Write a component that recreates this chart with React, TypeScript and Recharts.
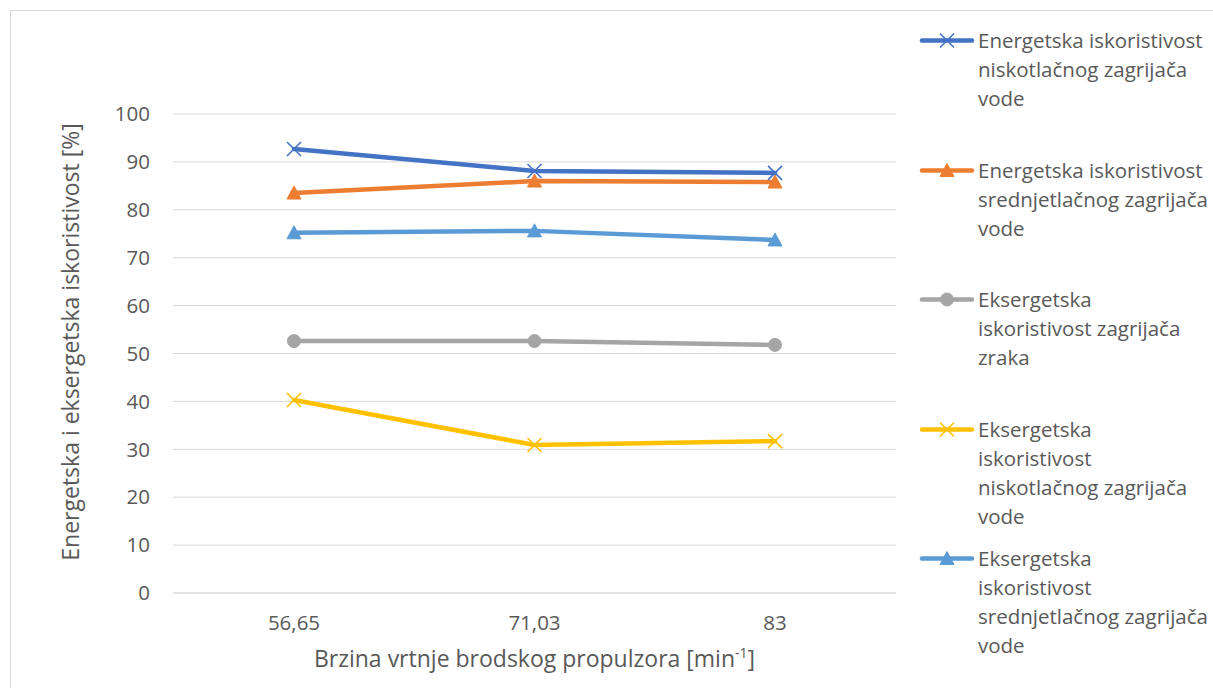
import React from 'react';
import { LineChart, Line, XAxis, YAxis, CartesianGrid, Legend, Label } from 'recharts';

const categories = ['56,65', '71,03', '83'];
const energNisko = [92.7, 88.1, 87.7];
const energSrednje = [83.5, 86.0, 85.8];
const eksZrak = [52.6, 52.6, 51.8];
const eksNisko = [40.3, 30.9, 31.7];
const eksSrednje = [75.2, 75.6, 73.7];
const yTicks = [0, 10, 20, 30, 40, 50, 60, 70, 80, 90, 100];

const seriesNames = [
  'Energetska iskoristivost niskotlačnog zagrijača vode',
  'Energetska iskoristivost srednjetlačnog zagrijača vode',
  'Eksergetska iskoristivost zagrijača zraka',
  'Eksergetska iskoristivost niskotlačnog zagrijača vode',
  'Eksergetska iskoristivost srednjetlačnog zagrijača vode',
];
const legendLines = [
  ['Energetska iskoristivost', 'niskotlačnog zagrijača', 'vode'],
  ['Energetska iskoristivost', 'srednjetlačnog zagrijača', 'vode'],
  ['Eksergetska', 'iskoristivost zagrijača', 'zraka'],
  ['Eksergetska', 'iskoristivost', 'niskotlačnog zagrijača', 'vode'],
  ['Eksergetska', 'iskoristivost', 'srednjetlačnog zagrijača', 'vode'],
];
const colors = ['#4472C4', '#ED7D31', '#A5A5A5', '#FFC000', '#5B9BD5'];
const markers = ['x', 'triangle', 'circle', 'x', 'triangle'];
const keys = ['s0', 's1', 's2', 's3', 's4'];

const data = categories.map((c, i) => ({
  cat: c,
  s0: energNisko[i],
  s1: energSrednje[i],
  s2: eksZrak[i],
  s3: eksNisko[i],
  s4: eksSrednje[i],
}));

const FONT = '"Open Sans", sans-serif';
const TXT = '#595959';

function Marker({ type, cx, cy, color }: { type: string; cx: number; cy: number; color: string }) {
  if (type === 'x') {
    const h = 7;
    return (
      <g>
        <line x1={cx - h} y1={cy - h} x2={cx + h} y2={cy + h} stroke={color} strokeWidth={1.6} />
        <line x1={cx - h} y1={cy + h} x2={cx + h} y2={cy - h} stroke={color} strokeWidth={1.6} />
      </g>
    );
  }
  if (type === 'triangle') {
    return (
      <polygon
        points={`${cx},${cy - 7} ${cx + 7},${cy + 6} ${cx - 7},${cy + 6}`}
        fill={color}
        stroke={color}
        strokeWidth={1}
      />
    );
  }
  return <circle cx={cx} cy={cy} r={6.5} fill={color} stroke={color} strokeWidth={1} />;
}

const makeDot = (idx: number) => (props: any) => {
  const { cx, cy, index } = props;
  if (cx == null || cy == null) return <g key={`d${idx}-${index}`} />;
  return (
    <g key={`d${idx}-${index}`}>
      <Marker type={markers[idx]} cx={cx} cy={cy} color={colors[idx]} />
    </g>
  );
};

const renderLegend = () => (
  <div style={{ fontFamily: FONT, fontSize: 20.5, color: TXT }}>
    {legendLines.map((lines, i) => (
      <div key={i} style={{ height: 129.5, display: 'flex', alignItems: 'flex-start' }}>
        <svg width={58} height={29} style={{ flex: '0 0 58px' }}>
          <line x1={4} y1={14.5} x2={54} y2={14.5} stroke={colors[i]} strokeWidth={4.5} strokeLinecap="round" />
          <Marker type={markers[i]} cx={29} cy={14.5} color={colors[i]} />
        </svg>
        <div style={{ marginLeft: 2, lineHeight: '29px', whiteSpace: 'nowrap' }}>
          {lines.map((l, j) => (
            <div key={j}>{l}</div>
          ))}
        </div>
      </div>
    ))}
  </div>
);

export default function App() {
  return (
    <div style={{ position: 'absolute', left: 0, top: 0, width: 1213, height: 688, background: '#fff', overflow: 'hidden' }}>
      <div
        style={{
          position: 'absolute',
          left: 10,
          top: 10,
          width: 1210,
          height: 700,
          border: '1px solid #d9d9d9',
          boxSizing: 'border-box',
        }}
      />
      <LineChart
        width={1213}
        height={688}
        data={data}
        margin={{ top: 114, right: 22, bottom: 65, left: 0 }}
        style={{ position: 'absolute', left: 0, top: 0 }}
      >
        <CartesianGrid vertical={false} stroke="#d9d9d9" strokeWidth={1} />
        <XAxis
          dataKey="cat"
          height={30}
          padding={{ left: 121, right: 121 }}
          tickLine={false}
          axisLine={{ stroke: '#d9d9d9', strokeWidth: 1 }}
          tickSize={0}
          tickMargin={22}
          tick={{ fill: TXT, fontSize: 20.5, fontFamily: FONT }}
          interval={0}
        >
          <Label
            content={(props: any) => {
              const vb = props.viewBox || {};
              const cx = (vb.x ?? 173) + (vb.width ?? 723) / 2;
              return (
                <text x={cx} y={667} textAnchor="middle" fill={TXT} fontSize={23} fontFamily={FONT}>
                  Brzina vrtnje brodskog propulzora [min
                  <tspan fontSize={14} dy={-9}>-1</tspan>
                  <tspan dy={9}>]</tspan>
                </text>
              );
            }}
          />
        </XAxis>
        <YAxis
          width={173}
          domain={[0, 100]}
          ticks={yTicks}
          interval={0}
          tickLine={false}
          axisLine={false}
          tickSize={0}
          tickMargin={23}
          tick={{ fill: TXT, fontSize: 20.5, fontFamily: FONT }}
        >
          <Label
            content={() => (
              <text
                x={0}
                y={0}
                transform="translate(79, 342) rotate(-90)"
                textAnchor="middle"
                fill={TXT}
                fontSize={23}
                fontFamily={FONT}
              >
                Energetska i eksergetska iskoristivost [%]
              </text>
            )}
          />
        </YAxis>
        <Legend
          layout="vertical"
          align="right"
          verticalAlign="top"
          content={renderLegend}
          wrapperStyle={{ left: 918, top: 26, right: 'auto', bottom: 'auto', width: 295 }}
        />
        {keys.map((k, i) => (
          <Line
            key={k}
            dataKey={k}
            name={seriesNames[i]}
            type="linear"
            stroke={colors[i]}
            strokeWidth={4.5}
            strokeLinecap="round"
            strokeLinejoin="round"
            dot={makeDot(i)}
            activeDot={false}
            isAnimationActive={false}
          />
        ))}
      </LineChart>
    </div>
  );
}
